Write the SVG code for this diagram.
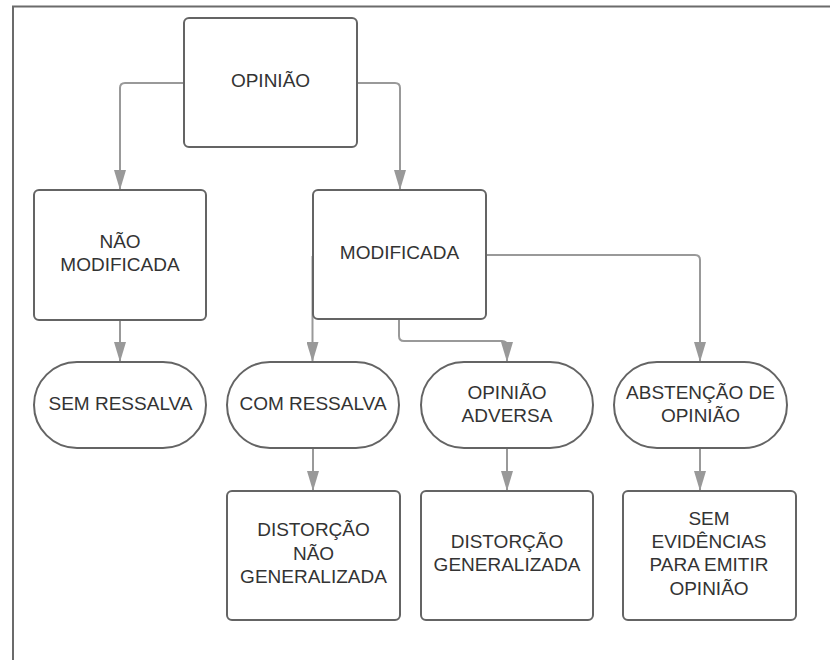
<svg xmlns="http://www.w3.org/2000/svg" width="830" height="660" viewBox="0 0 830 660">
<defs>
<style>
.box{fill:#ffffff;stroke:#646464;stroke-width:2}
.lbl{font-family:"Liberation Sans",Arial,sans-serif;font-size:19px;fill:#333333;text-anchor:middle}
.con{fill:none;stroke:#999999;stroke-width:2}
.frame{fill:none;stroke:#6b6b6b;stroke-width:2}
</style>
<marker id="arr" viewBox="0 0 20 12" markerWidth="20" markerHeight="12" refX="20" refY="6" orient="auto" markerUnits="userSpaceOnUse">
<path d="M0,0 L20,6 L0,12 Z" fill="#999999"/>
</marker>
</defs>
<rect width="830" height="660" fill="#ffffff"/>
<path class="frame" d="M13,660 V6.5 H830"/>

<g id="connectors">
<path class="con" marker-end="url(#arr)" d="M184,83 H125 Q120,83 120,88 V190"/>
<path class="con" marker-end="url(#arr)" d="M357,83 H395 Q400,83 400,88 V190"/>
<path class="con" marker-end="url(#arr)" d="M120,320 V362"/>
<path class="con" marker-end="url(#arr)" d="M312.5,256 V362"/>
<path class="con" marker-end="url(#arr)" d="M399,319 V336 Q399,341 404,341 H502 Q507,341 507,346 V362"/>
<path class="con" marker-end="url(#arr)" d="M486,255 H695 Q700,255 700,260 V362"/>
<path class="con" marker-end="url(#arr)" d="M313,448 V491"/>
<path class="con" marker-end="url(#arr)" d="M507,448 V491"/>
<path class="con" marker-end="url(#arr)" d="M700,448 V491"/>
</g>

<g id="opiniao">
<rect class="box" x="184" y="18" width="173" height="129" rx="5"/>
<text class="lbl" x="270.5" y="87">OPINIÃO</text>
</g>
<g id="nao-modificada">
<rect class="box" x="34" y="190" width="172" height="130" rx="5"/>
<text class="lbl" x="120" y="248">NÃO</text>
<text class="lbl" x="120" y="271">MODIFICADA</text>
</g>
<g id="modificada">
<rect class="box" x="313" y="190" width="173" height="129" rx="5"/>
<text class="lbl" x="399.5" y="259">MODIFICADA</text>
</g>
<g id="sem-ressalva">
<rect class="box" x="34" y="362" width="172" height="86" rx="43"/>
<text class="lbl" x="120.5" y="409.5">SEM RESSALVA</text>
</g>
<g id="com-ressalva">
<rect class="box" x="227" y="362" width="172" height="86" rx="43"/>
<text class="lbl" x="313" y="409.5">COM RESSALVA</text>
</g>
<g id="opiniao-adversa">
<rect class="box" x="421" y="362" width="172" height="86" rx="43"/>
<text class="lbl" x="507" y="399">OPINIÃO</text>
<text class="lbl" x="507" y="422">ADVERSA</text>
</g>
<g id="abstencao">
<rect class="box" x="614" y="362" width="173" height="86" rx="43"/>
<text class="lbl" x="700.5" y="399">ABSTENÇÃO DE</text>
<text class="lbl" x="700.5" y="422">OPINIÃO</text>
</g>
<g id="distorcao-nao-generalizada">
<rect class="box" x="227" y="491" width="173" height="129" rx="5"/>
<text class="lbl" x="313.5" y="536">DISTORÇÃO</text>
<text class="lbl" x="313.5" y="560">NÃO</text>
<text class="lbl" x="313.5" y="583">GENERALIZADA</text>
</g>
<g id="distorcao-generalizada">
<rect class="box" x="421" y="491" width="172" height="129" rx="5"/>
<text class="lbl" x="507" y="548">DISTORÇÃO</text>
<text class="lbl" x="507" y="571">GENERALIZADA</text>
</g>
<g id="sem-evidencias">
<rect class="box" x="623" y="491" width="173" height="129" rx="5"/>
<text class="lbl" x="709" y="525">SEM</text>
<text class="lbl" x="709" y="548">EVIDÊNCIAS</text>
<text class="lbl" x="709" y="571">PARA EMITIR</text>
<text class="lbl" x="709" y="595">OPINIÃO</text>
</g>
</svg>
